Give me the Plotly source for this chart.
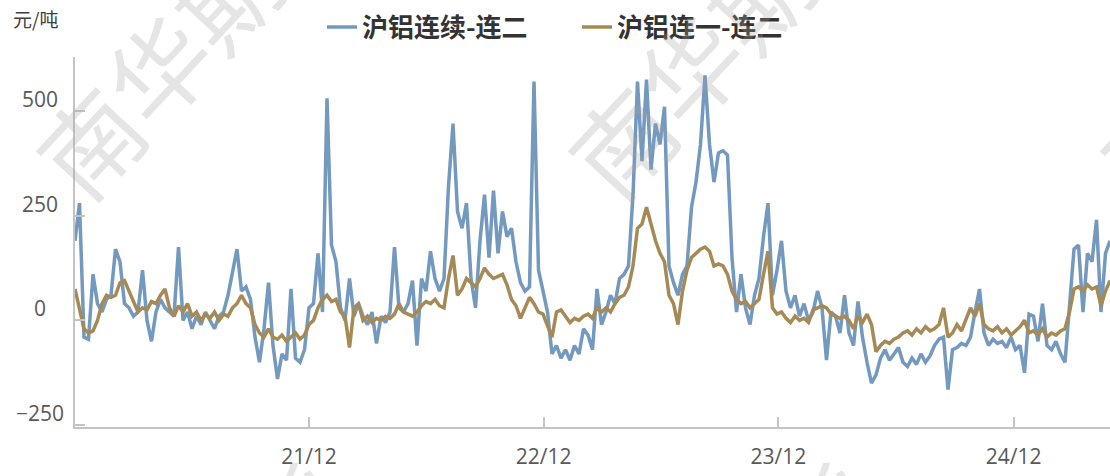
import pandas as pd
import plotly.graph_objects as go

# ---------------- data (weekly readings, starting 2020-12-02) ----------------
start_date = "2020-12-02"
series_blue_name = "沪铝连续-连二"
series_gold_name = "沪铝连一-连二"

blue_values = [
    190, 280, -40, -45, 110, 40, 20, 50, 60, 170,
    140, 40, 30, 10, 20, 120, 0, -50, 20, 50,
    30, 20, 10, 175, 0, 20, -20, 10, -10, 20,
    0, -20, 10, 20, 60, 120, 170, 70, 80, 50,
    -40, -100, -20, 90, -60, -140, -80, -95, 75, -90,
    -100, -70, 30, 40, 160, 20, 530, 180, 140, 30,
    0, 100, 10, 40,
    10, -10, 20, -55, 10, -5, 20, 175, 30, 20,
    40, 95, -60, 100, 70, 165, 100, 70, 100, 320,
    470, 260, 220, 280, 100, 30, 190, 300, 150, 310,
    160, 260, 200, 220, 140, 90, 70, 80, 570, 120,
    70, 20, -80, -60, -90, -70, -95, -60, -80, -20,
    -35, -70,
    75, -10, 20, 60, 40, 100, 110, 130, 300, 570,
    380, 575, 360, 470, 420, 510, 130, 90, 60, 110,
    130, 270, 330, 420, 585, 420, 330, 400, 405, 395,
    150, 20, 110, 30, -10, 60, 100, 200, 280, 60,
    120, 190, 70, 30, 60, 10, 40, 0, 20, 70,
    30, -95, 20, 10, -30,
    60, -30, -60, 45, -40, -100, -150, -130, -90, -70,
    -95, -80, -65, -100, -110, -90, -105, -80, -100, -85,
    -60, -45, -40, -165, -70, -65, -55, -60, -40, 20,
    75, -30, -60, -45, -55, -50, -65, -40, -70, -60,
    -125, 15, 10, -50, 40, -60, -70, -50, -80, -100,
    30, 170, 180, 20, 160, 140, 240, 20, 160, 190,
]

gold_values = [
    75, 30, -20, -30, -25, 0, 40, 60, 55, 60,
    90, 95, 70, 40, 20, 30, 25, 45, 40, 60,
    75, 30, 10, 35, 20, 40, 10, 20, 0, 15,
    5, 20, 0, 15, 10, 30, 40, 60, 40, 30,
    -10, -30, -40, -20, -40, -45, -35, -50, -40, -30,
    -45, -35, -10, 0, 30, 50, 60, 45, 50, 20,
    10, -65, 30, 40,
    0, 10, -5, 5, 0, 10, 5, 15, 40, 20,
    15, 10, 20, 35, 45, 40, 50, 35, 30, 100,
    155, 60, 75, 100, 90, 80, 100, 125, 110, 100,
    105, 110, 85, 50, 35, 5, 30, 55, 40, 20,
    15, -10, -40, 20, 25, 10, -5, 5, 0, 10,
    15, 5,
    30, 20, 30, 20, 40, 55, 60, 80, 130, 220,
    230, 270, 230, 190, 160, 140, 60, 40, -10, 70,
    120, 150, 160, 170, 175, 165, 130, 135, 130, 110,
    70, 50, 40, 45, 30, 40, 50, 110, 165, 30,
    15, 20, 5, -5, 10, 0, 5, -5, 25, 30,
    35, 30, 15, 10, 5,
    10, 0, -20, 10, -5, 15, -10, -75, -60, -50,
    -55, -45, -40, -30, -25, -35, -20, -30, -15, -25,
    -20, -10, 30, -40, -30, -10, -25, 0, 30, 10,
    40, -10, -20, -25, -15, -30, -20, -35, -25, -15,
    0, -30, -25, -35, -20, -40, -30, -35, -25, -20,
    20, 75, 80, 70, 85, 75, 80, 35, 70, 95,
]

x_tick_dates = ["2021-12-01", "2022-12-01", "2023-12-01", "2024-12-01"]
x_tick_labels = ["21/12", "22/12", "23/12", "24/12"]
y_tick_values = [-250, 0, 250, 500]
y_tick_labels = ["−250", "0", "250", "500"]
unit_label = "元/吨"
watermark_text = "南华期货"

dates = pd.date_range(start_date, periods=len(blue_values), freq="7D")

# ---------------- figure ----------------
W, H = 1110, 476
L, R, T, B = 75, 0, 57, 49
plot_w = W - L - R
plot_h = H - T - B

def px_to_paper(px, py):
    return (px - L) / plot_w, (H - B - py) / plot_h

AX = "#c4c4c4"
TXT = "#595959"
TICKFONT = dict(family="Open Sans, DejaVu Sans, sans-serif", size=21, color=TXT)

fig = go.Figure()
fig.add_trace(go.Scatter(x=dates, y=blue_values, name=series_blue_name, mode="lines",
                         line=dict(color="#7399bf", width=3.5)))
fig.add_trace(go.Scatter(x=dates, y=gold_values, name=series_gold_name, mode="lines",
                         line=dict(color="#a68a55", width=3.5)))

annotations = []
for v, lab in zip(y_tick_values, y_tick_labels):
    annotations.append(dict(x=px_to_paper(40, 0)[0], xref="paper", y=v, yref="y",
                            text=lab, showarrow=False, xanchor="center", yanchor="middle",
                            yshift=12, font=TICKFONT))

ux, uy = px_to_paper(11, 19)
annotations.append(dict(x=ux, y=uy, xref="paper", yref="paper", text=unit_label,
                        showarrow=False, xanchor="left", yanchor="middle",
                        font=dict(family="Noto Sans CJK SC", size=19, color="#404040")))

for cx, cy in [(190, 30), (722, 30), (1254, 30), (190, 625), (722, 625)]:
    wx, wy = px_to_paper(cx, cy)
    annotations.append(dict(x=wx, y=wy, xref="paper", yref="paper", text=watermark_text,
                            showarrow=False, xanchor="center", yanchor="middle",
                            textangle=-47,
                            font=dict(family="Noto Sans CJK SC", size=100,
                                      color="rgba(160,160,160,0.28)")))

fig.update_layout(
    width=W, height=H,
    margin=dict(l=L, r=R, t=T, b=B, pad=0),
    paper_bgcolor="white", plot_bgcolor="rgba(0,0,0,0)",
    showlegend=True,
    legend=dict(orientation="h", xref="container", yref="container",
                x=322 / W, xanchor="left", y=1 - 27 / H, yanchor="middle",
                font=dict(family="Noto Sans CJK SC", size=26, color="#333333", weight="bold"),
                bgcolor="rgba(0,0,0,0)", entrywidth=210, itemwidth=30),
    annotations=annotations,
    xaxis=dict(type="date", range=["2020-12-02", "2025-04-30"],
               tickvals=x_tick_dates, ticktext=x_tick_labels,
               ticks="inside", ticklen=10, tickwidth=2, tickcolor=AX,
               showline=True, linecolor=AX, linewidth=2,
               showgrid=False, zeroline=False, tickfont=TICKFONT,
               ticklabelstandoff=10),
    yaxis=dict(range=[-254.5, 628.8], tickvals=y_tick_values,
               showticklabels=False, ticks="inside", ticklen=10, tickwidth=2,
               tickcolor=AX, showline=True, linecolor=AX, linewidth=2,
               showgrid=False, zeroline=False),
)

fig.write_html("out.html", config={"displayModeBar": False},
               post_script="document.body.style.margin='0';document.body.style.padding='0';")
